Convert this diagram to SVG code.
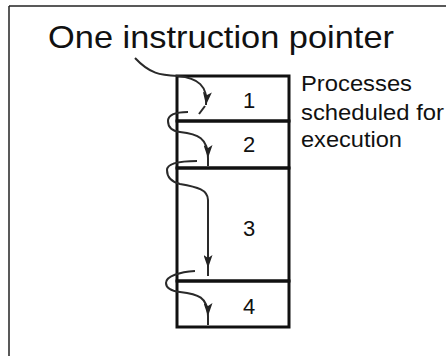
<svg xmlns="http://www.w3.org/2000/svg" width="446" height="356" viewBox="0 0 446 356">
<style>
text{font-family:"Liberation Sans",Arial,sans-serif;fill:#111}
.box{stroke:#111;stroke-width:3;fill:none}
.c{stroke:#2a2a2a;stroke-width:2;fill:none}
.num{font-size:22px;text-anchor:middle}
.lbl{font-size:22px}
</style>
<defs>
<marker id="ah" markerUnits="userSpaceOnUse" markerWidth="14" markerHeight="9" refX="13" refY="4.5" orient="auto">
<path d="M0,0 L13,4.5 L0,9 L3,4.5 Z" fill="#222"/>
</marker>
</defs>
<rect width="446" height="356" fill="#fff"/>
<g id="frame" stroke="#222" stroke-width="1.5" fill="none">
<line x1="9" y1="6" x2="446" y2="6"/>
<line x1="9" y1="6" x2="9" y2="356"/>
</g>
<g id="title"><text x="48" y="47.5" font-size="32" textLength="346" lengthAdjust="spacingAndGlyphs">One instruction pointer</text></g>
<g id="label">
<text class="lbl" x="301" y="91" textLength="111" lengthAdjust="spacingAndGlyphs">Processes</text>
<text class="lbl" x="301" y="120" textLength="143" lengthAdjust="spacingAndGlyphs">scheduled for</text>
<text class="lbl" x="301" y="147" textLength="101" lengthAdjust="spacingAndGlyphs">execution</text>
</g>
<g id="process1"><path class="box" d="M177,121 V76 H289 V121 Z"/><text class="num" x="249" y="108">1</text></g>
<g id="process2"><path class="box" d="M177,121 H289 V168 H177 Z"/><text class="num" x="249" y="152">2</text></g>
<g id="process3"><path class="box" d="M177,168 H289 V281 H177 Z"/><text class="num" x="249" y="236">3</text></g>
<g id="process4"><path class="box" d="M177,281 H289 V327 H177 Z"/><text class="num" x="249" y="314">4</text></g>
<g id="connectors">
<path class="c" d="M135,58 C150,74 160,75 178,76 C198,78 208,86 206,105" marker-end="url(#ah)"/>
<path class="c" d="M205,106 L199,114"/>
<path class="c" d="M188,112 C176,112 168,115 168,121 C168,128 172,131 180,132 C198,134 208,138 208,158" marker-end="url(#ah)"/>
<path class="c" d="M208,158 L208,166"/>
<path class="c" d="M197,161 C180,161 167,163 167,170 C167,178 172,182 180,184 C198,187 208,190 208,200 L208,268" marker-end="url(#ah)"/>
<path class="c" d="M208,268 L208,276"/>
<path class="c" d="M195,271 C180,272 166,276 166,283 C166,289 172,291 180,292 C198,294 208,297 208,316" marker-end="url(#ah)"/>
<path class="c" d="M208,316 L208,325"/>
</g>
</svg>
